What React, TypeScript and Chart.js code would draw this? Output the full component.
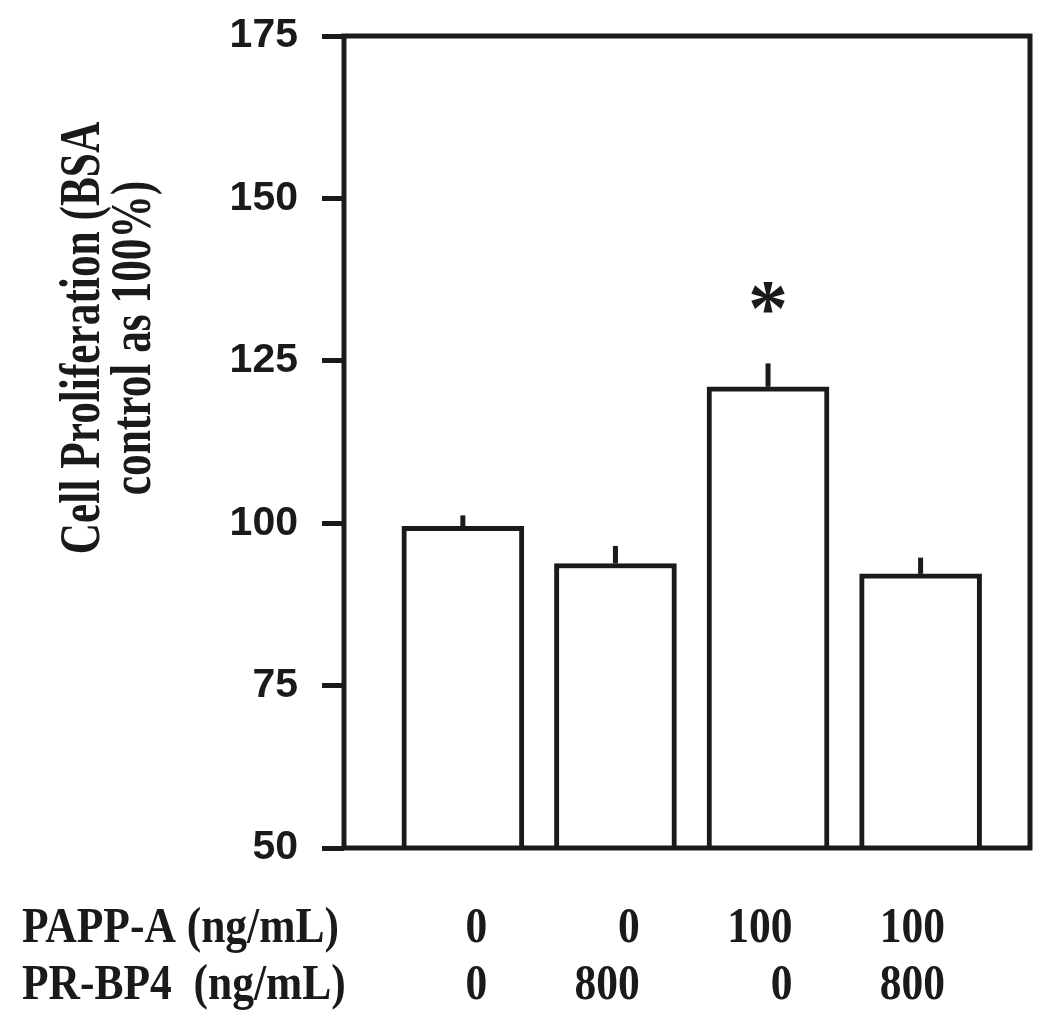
import React, { useEffect, useRef } from "react";
import { Chart, registerables } from "chart.js";

Chart.register(...registerables);

const groupIds = [1, 2, 3, 4];
const pappaLevels = ["0", "0", "100", "100"];
const prbp4Levels = ["0", "800", "0", "800"];
const meanValues = [99.5, 93.8, 121.0, 92.2];
const semValues = [1.7, 2.7, 3.6, 2.5];
const significant = [false, false, true, false];
const yMin = 50;
const yMax = 175;
const yStep = 25;
const rowLabels = ["PAPP-A (ng/mL)", "PR-BP4  (ng/mL)"];
const yTitleLines = ["Cell Proliferation (BSA", "control as 100%)"];

const INK = "#1a1a1a";

function condensedText(
  ctx: CanvasRenderingContext2D,
  text: string,
  x: number,
  y: number,
  align: CanvasTextAlign,
  sx: number,
  rotate = 0
) {
  ctx.save();
  ctx.translate(x, y);
  if (rotate) ctx.rotate(rotate);
  ctx.scale(sx, 1);
  ctx.textAlign = align;
  ctx.textBaseline = "alphabetic";
  ctx.fillText(text, 0, 0);
  ctx.restore();
}

const figurePlugin = {
  id: "figureExtras",
  afterDatasetsDraw(chart: any) {
    const ctx: CanvasRenderingContext2D = chart.ctx;
    const xs = chart.scales.x;
    const ys = chart.scales.y;
    const area = chart.chartArea;
    ctx.save();
    ctx.strokeStyle = INK;
    ctx.lineWidth = 5;
    ctx.lineCap = "butt";
    groupIds.forEach((g, i) => {
      const px = xs.getPixelForValue(g);
      const y0 = ys.getPixelForValue(meanValues[i]);
      const y1 = ys.getPixelForValue(meanValues[i] + semValues[i]);
      ctx.beginPath();
      ctx.moveTo(px, y0);
      ctx.lineTo(px, y1);
      ctx.stroke();
      if (significant[i]) {
        ctx.fillStyle = INK;
        const fs = 80;
        ctx.font = `bold ${fs}px 'Liberation Serif', 'Times New Roman', serif`;
        ctx.textAlign = "center";
        ctx.textBaseline = "alphabetic";
        ctx.fillText("*", px, y1 - 68 + 0.5 * fs);
      }
    });
    ctx.lineWidth = 5;
    ctx.strokeStyle = INK;
    ctx.strokeRect(area.left, area.top, area.right - area.left, area.bottom - area.top);
    ctx.restore();
  },
  afterDraw(chart: any) {
    const ctx: CanvasRenderingContext2D = chart.ctx;
    const xs = chart.scales.x;
    const area = chart.chartArea;
    ctx.save();
    ctx.fillStyle = INK;
    ctx.font = "bold 50px 'Liberation Serif', 'Times New Roman', serif";
    const sx = 0.87;
    const row1 = area.bottom + 94;
    const row2 = area.bottom + 151;
    condensedText(ctx, rowLabels[0], 22, row1, "left", sx);
    condensedText(ctx, rowLabels[1], 22, row2, "left", sx);
    groupIds.forEach((g, i) => {
      const px = xs.getPixelForValue(g + 0.16);
      condensedText(ctx, pappaLevels[i], px, row1, "right", sx);
      condensedText(ctx, prbp4Levels[i], px, row2, "right", sx);
    });
    ctx.font = "bold 57px 'Liberation Serif', 'Times New Roman', serif";
    const cy = (area.top + area.bottom) / 2 - 104;
    condensedText(ctx, yTitleLines[0], 99, cy, "center", 0.76, -Math.PI / 2);
    condensedText(ctx, yTitleLines[1], 150, cy, "center", 0.76, -Math.PI / 2);
    ctx.restore();
  },
};

export default function App() {
  const canvasRef = useRef<HTMLCanvasElement | null>(null);

  useEffect(() => {
    const canvas = canvasRef.current;
    if (!canvas) return;
    const chart = new Chart(canvas, {
      type: "bar",
      data: {
        datasets: [
          {
            label: "Cell Proliferation",
            data: groupIds.map((g, i) => ({ x: g, y: meanValues[i] })),
            backgroundColor: "#ffffff",
            borderColor: INK,
            borderWidth: 5,
            borderSkipped: "start",
            barThickness: 122,
          },
        ],
      },
      options: {
        animation: false,
        responsive: false,
        layout: { padding: { left: 0, top: 36, right: 20, bottom: 172 } },
        plugins: {
          legend: { display: false },
          tooltip: { enabled: false },
          title: { display: false },
        },
        scales: {
          x: {
            type: "linear",
            display: false,
            offset: false,
            min: 0.221,
            max: 4.717,
          },
          y: {
            type: "linear",
            min: yMin,
            max: yMax,
            afterFit: (scale: any) => {
              scale.width = 344;
              scale.paddingTop = 0;
              scale.paddingBottom = 0;
            },
            border: { display: false },
            grid: {
              drawOnChartArea: false,
              drawTicks: true,
              tickLength: 22,
              tickWidth: 5,
              tickColor: INK,
              color: INK,
            },
            ticks: {
              stepSize: yStep,
              padding: 24,
              color: INK,
              font: { family: "'Liberation Sans', Arial, sans-serif", size: 41, weight: "bold" },
            },
          },
        },
      },
      plugins: [figurePlugin],
    });
    return () => chart.destroy();
  }, []);

  return (
    <div style={{ position: "absolute", left: 0, top: 0, width: 1050, height: 1020, background: "#fff" }}>
      <canvas ref={canvasRef} width={1050} height={1020} style={{ width: 1050, height: 1020 }} />
    </div>
  );
}
